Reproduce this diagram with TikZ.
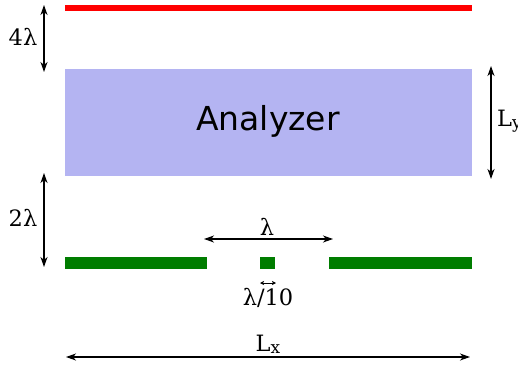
\documentclass[tikz,border=0pt]{standalone}
\usepackage{fontspec}
\setmainfont{DejaVu Serif}
\newfontfamily\anfont{DejaVu Sans}
\usetikzlibrary{arrows.meta}
\definecolor{lav}{RGB}{180,180,242}
\definecolor{dgreen}{RGB}{0,125,0}
\begin{document}
\begin{tikzpicture}[x=1pt,y=-1pt,
  bar/.style={fill=#1,inner sep=0,outer sep=0,draw=none,minimum height=6},
  dim/.style={line width=1.3pt,{Stealth[length=10pt,width=7pt,inset=3pt]}-{Stealth[length=10pt,width=7pt,inset=3pt]}},
  smalldim/.style={line width=1pt,{Stealth[length=4pt,width=4pt,inset=1pt]}-{Stealth[length=4pt,width=4pt,inset=1pt]}},
  lbl/.style={font=\fontsize{22.5}{25}\selectfont,inner sep=0}]
\useasboundingbox (0,0) rectangle (518,369);
% red top bar
\node[bar=red,minimum width=407,minimum height=6] (redbar) at (268.5,8) {};
% analyzer
\node[fill=lav,inner sep=0,minimum width=407,minimum height=107] (an) at (268.5,122.5) {};
\node[font=\anfont\fontsize{33}{36}\selectfont,inner sep=0] (antext) at (268,121) {Analyzer};
% green bars
\node[bar=dgreen,minimum width=142,minimum height=12] (g1) at (136,263) {};
\node[bar=dgreen,minimum width=15,minimum height=12] (g2) at (267.5,263) {};
\node[bar=dgreen,minimum width=143,minimum height=12] (g3) at (400.5,263) {};
% 4 lambda
\coordinate (a4t) at (44,5);
\coordinate (a4b) at (44,72);
\draw[dim] (a4t) -- (a4b);
\node[lbl] (l4) at (23,37) {4λ};
% 2 lambda
\coordinate (a2t) at (44,173);
\coordinate (a2b) at (44,267);
\draw[dim] (a2t) -- (a2b);
\node[lbl] (l2) at (23,218) {2λ};
% Ly
\coordinate (lyt) at (491,66);
\coordinate (lyb) at (491,179);
\draw[dim] (lyt) -- (lyb);
\node[lbl,anchor=west] (ly) at (497,121) {L\raisebox{-2pt}{\fontsize{17}{17}\selectfont y}};
% lambda
\coordinate (lal) at (204,239);
\coordinate (lar) at (333,239);
\draw[dim] (lal) -- (lar);
\node[lbl] (la) at (267,227) {λ};
% lambda/10
\coordinate (sl) at (260,283);
\coordinate (sr) at (276,283);
\draw[smalldim] (sl) -- (sr);
\node[lbl] (l10) at (268,298) {λ/10};
% Lx
\coordinate (lxl) at (66,357);
\coordinate (lxr) at (470,357);
\draw[dim] (lxl) -- (lxr);
\node[lbl] (lx) at (268,344) {L\raisebox{-2pt}{\fontsize{17}{17}\selectfont x}};
\end{tikzpicture}
\end{document}
